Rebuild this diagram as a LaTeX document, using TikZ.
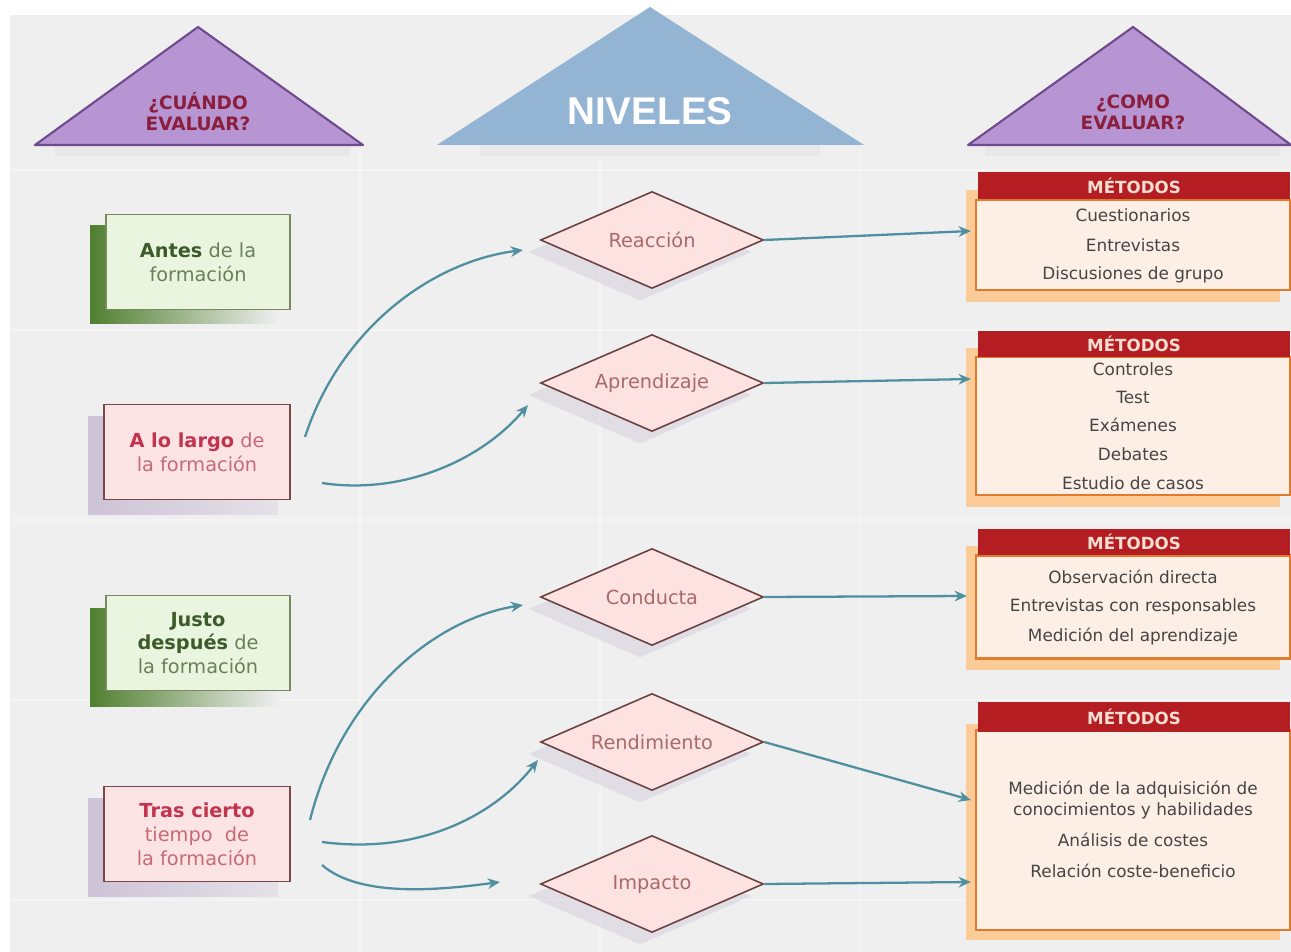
\documentclass[tikz,border=0pt]{standalone}
\usepackage{fontspec}
\setmainfont{DejaVu Sans}
\newfontfamily\arialb{Liberation Sans}
\usetikzlibrary{shapes.geometric,arrows.meta,calc}
\definecolor{bg}{HTML}{EFEFEF}
\definecolor{purp}{HTML}{B795D2}
\definecolor{purpd}{HTML}{6E4B8E}
\definecolor{triTxt}{HTML}{8A1E3C}
\definecolor{blu}{HTML}{93B4D2}
\definecolor{grnF}{HTML}{EAF5DF}
\definecolor{grnB}{HTML}{7B8A5E}
\definecolor{grnT}{HTML}{3D5A2A}
\definecolor{grnL}{HTML}{6B7F5A}
\definecolor{grnS}{HTML}{4F7F2F}
\definecolor{pnkF}{HTML}{FCE4E4}
\definecolor{pnkB}{HTML}{7A4848}
\definecolor{pnkT}{HTML}{C2334E}
\definecolor{pnkL}{HTML}{C66A78}
\definecolor{pnkS}{HTML}{CDC2D6}
\definecolor{diaF}{HTML}{FCE2E0}
\definecolor{diaB}{HTML}{6B4141}
\definecolor{diaT}{HTML}{A86A6A}
\definecolor{hdr}{HTML}{B41E22}
\definecolor{hdrT}{HTML}{F8DDD2}
\definecolor{mF}{HTML}{FDEEE6}
\definecolor{mB}{HTML}{E07B2E}
\definecolor{mS}{HTML}{FBCB98}
\definecolor{mT}{HTML}{454545}
\definecolor{arr}{HTML}{4F8FA0}
\tikzset{
  tri/.style={fill=purp, draw=purpd, line width=1.2pt, line join=round},
  tritxt/.style={text=triTxt, font=\bfseries\fontsize{10.5}{12}\selectfont, align=center},
  gbox/.style={draw=grnB, fill=grnF, line width=1pt, minimum width=3.68cm, minimum height=1.9cm, align=center, text=grnL, font=\fontsize{11}{13.6}\selectfont},
  pbox/.style={draw=pnkB, fill=pnkF, line width=1pt, minimum width=3.72cm, minimum height=1.9cm, align=center, text=pnkL, font=\fontsize{11}{13.6}\selectfont},
  dia/.style={diamond, aspect=2.3, draw=diaB, fill=diaF, line width=0.9pt, inner sep=0pt, minimum width=4.46cm, minimum height=1.94cm, text=diaT, font=\fontsize{11}{13}\selectfont},
  diash/.style={diamond, aspect=2.3, fill=pnkS, opacity=0.4, inner sep=0pt, minimum width=4.46cm, minimum height=1.94cm},
  hdrbox/.style={fill=hdr, minimum width=6.24cm, minimum height=0.54cm, inner sep=0pt, text=hdrT, font=\bfseries\fontsize{9.5}{11}\selectfont},
  mbox/.style={draw=mB, fill=mF, line width=1.3pt, minimum width=6.28cm, inner sep=0pt},
  item/.style={text=mT, font=\fontsize{9.6}{11.5}\selectfont, align=center},
  conn/.style={draw=arr, line width=1.3pt, -{Stealth[length=7pt,width=6pt]}},
}
\begin{document}
\begin{tikzpicture}[x=0.02cm,y=-0.02cm]
\useasboundingbox (0,0) rectangle (1291,952);
\fill[white] (0,0) rectangle (1291,952);
\fill[bg] (10,15) rectangle (1291,952);
% faint grid
\foreach \yy in {170,330,520,700,900}{\draw[white,line width=1.2pt,opacity=0.35] (10,\yy) -- (1291,\yy);}
\foreach \xx in {360,600,860}{\draw[white,line width=1.2pt,opacity=0.35] (\xx,150) -- (\xx,952);}

% ---- triangles ----
\fill[black!9] (55,145) rectangle (350,156);
\path[tri] (35,145) -- (198,27) -- (363,145) -- cycle;
\node[tritxt] (cuando) at (198,112) {¿CUÁNDO\\EVALUAR?};

\fill[black!9] (480,145) rectangle (820,156);
\fill[blu] (437,145) -- (650,7) -- (864,145) -- cycle;
\node[text=white, font=\arialb\bfseries\fontsize{22}{24}\selectfont] (niveles) at (650,111) {NIVELES};

\fill[black!9] (985,145) rectangle (1280,156);
\path[tri] (968,145) -- (1133,27) -- (1291,145) -- cycle;
\node[tritxt] (como) at (1133,112) {¿COMO\\EVALUAR?};

% ---- left boxes ----
\shade[left color=grnS, right color=bg] (90,226) rectangle (278,324);
\node[gbox] (antes) at (198,262) {\textbf{\color{grnT}Antes} de la\\formación};
\shade[left color=pnkS, right color=bg!70!pnkS] (88,417) rectangle (278,514);
\node[pbox] (lolargo) at (197,452) {\textbf{\color{pnkT}A lo largo} de\\la formación};
\shade[left color=grnS, right color=bg] (90,608) rectangle (278,706);
\node[gbox] (justo) at (198,643) {\textbf{\color{grnT}Justo}\\\textbf{\color{grnT}después} de\\la formación};
\shade[left color=pnkS, right color=bg!70!pnkS] (88,798) rectangle (278,896);
\node[pbox] (tras) at (197,834) {\textbf{\color{pnkT}Tras cierto}\\tiempo\ \ de\\la formación};

% ---- diamonds ----
\foreach \yy in {240,383,597,742,884}{\node[diash] at (640,\yy+12) {};}
\node[dia] (reac) at (652,240) {Reacción};
\node[dia] (apre) at (652,383) {Aprendizaje};
\node[dia] (cond) at (652,597) {Conducta};
\node[dia] (rend) at (652,742) {Rendimiento};
\node[dia] (impa) at (652,884) {Impacto};

% ---- method boxes ----
% box 1
\fill[mS] (966,190) rectangle (1280,302);
\node[mbox, minimum height=1.8cm] (m1) at (1133,245) {};
\node[hdrbox] (h1) at (1134,186) {MÉTODOS};
\node[item] at (1133,215) {Cuestionarios};
\node[item] at (1133,245) {Entrevistas};
\node[item] at (1133,275) {Discusiones de grupo};
% box 2
\fill[mS] (966,348) rectangle (1280,507);
\node[mbox, minimum height=2.76cm] (m2) at (1133,426) {};
\node[hdrbox] (h2) at (1134,344) {MÉTODOS};
\node[item] at (1133,369) {Controles};
\node[item] at (1133,397) {Test};
\node[item] at (1133,425) {Exámenes};
\node[item] at (1133,454) {Debates};
\node[item] at (1133,483) {Estudio de casos};
% box 3
\fill[mS] (966,546) rectangle (1280,670);
\node[mbox, minimum height=2.06cm] (m3) at (1133,607) {};
\node[hdrbox] (h3) at (1134,542) {MÉTODOS};
\node[item] at (1133,577) {Observación directa};
\node[item] at (1133,607) {Entrevistas con responsables};
\node[item] at (1133,637) {Medición del aprendizaje};
% box 4
\fill[mS] (966,724) rectangle (1280,940);
\node[mbox, minimum height=4.0cm] (m4) at (1133,830) {};
\node[hdrbox, minimum height=0.6cm] (h4) at (1134,717) {MÉTODOS};
\node[item] at (1133,800) {Medición de la adquisición de\\conocimientos y habilidades};
\node[item] at (1133,840) {Análisis de costes};
\node[item] at (1133,871) {Relación coste-beneficio};

% ---- straight connectors ----
\draw[conn] (reac.east) -- ($(m1.west)+(-4,-14)$);
\draw[conn] (apre.east) -- ($(m2.west)+(-4,-47)$);
\draw[conn] (cond.east) -- ($(m3.west)+(-8,-11)$);
\draw[conn] (rend.east) -- ($(m4.west)+(-4,-30)$);
\draw[conn] (impa.east) -- ($(m4.west)+(-4,52)$);

% ---- curved connectors ----
\coordinate (s1) at (305,437);
\coordinate (e1) at (523,250);
\coordinate (s2) at (322,483);
\coordinate (e2) at (528,405);
\coordinate (s3) at (310,820);
\coordinate (e3) at (523,605);
\coordinate (s4) at (322,842);
\coordinate (e4) at (538,760);
\coordinate (s5) at (322,865);
\coordinate (e5) at (500,882);
\draw[conn] (s1) .. controls (340,330) and (430,262) .. (e1);
\draw[conn] (s2) .. controls (400,495) and (480,462) .. (e2);
\draw[conn] (s3) .. controls (340,700) and (430,620) .. (e3);
\draw[conn] (s4) .. controls (420,855) and (495,815) .. (e4);
\draw[conn] (s5) .. controls (360,898) and (440,890) .. (e5);
\end{tikzpicture}
\end{document}
